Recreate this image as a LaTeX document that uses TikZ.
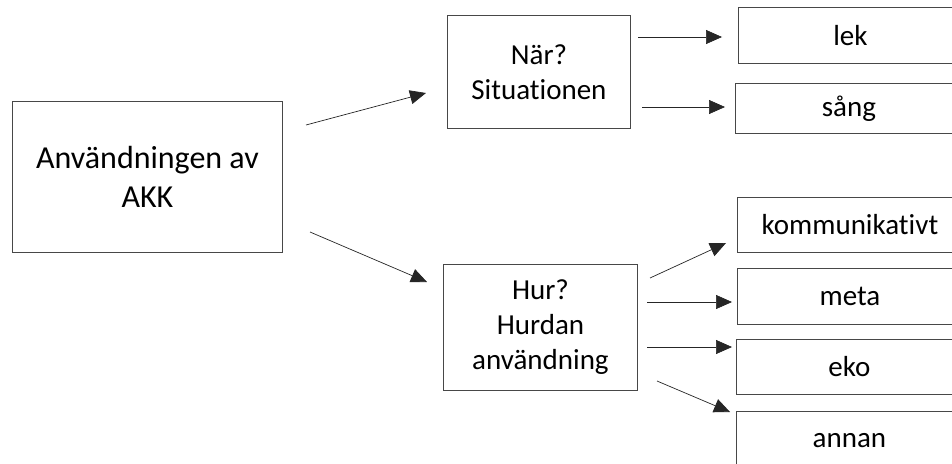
\documentclass[tikz,border=0pt]{standalone}
\usepackage{fontspec}
\setmainfont{Carlito}[RawFeature={-liga,-clig}]
\usetikzlibrary{arrows.meta}
\tikzset{
  box/.style={draw=black!72, line width=0.9pt, rectangle, inner sep=0pt, anchor=north west, align=center, font=\fontsize{29}{35}\selectfont},
  bigbox/.style={box, font=\fontsize{32}{39}\selectfont},
  conn/.style={draw=black!85, line width=0.7pt, -{Triangle[length=16pt,width=14pt]}}
}
\begin{document}
\begin{tikzpicture}[x=1pt,y=-1pt]
\useasboundingbox (0,0) rectangle (952,463);
\clip (0,0) rectangle (952,463);
\fill[white] (0,0) rectangle (952,463);
% nodes
\node[bigbox, minimum width=270pt, minimum height=151pt] (main) at (12,101) {Användningen av\\AKK};
\node[box, minimum width=183pt, minimum height=113pt] (nar) at (447,15) {När?\\Situationen};
\node[box, minimum width=194pt, minimum height=126pt] (hur) at (443,264) {Hur?\\Hurdan\\användning};
\node[box, minimum width=224pt, minimum height=56pt] (lek) at (738,7) {lek};
\node[box, minimum width=227pt, minimum height=50pt] (sang) at (735,83) {sång};
\node[box, minimum width=225pt, minimum height=55pt] (komm) at (737,197) {kommunikativt};
\node[box, minimum width=225pt, minimum height=56pt] (meta) at (737,268) {meta};
\node[box, minimum width=226pt, minimum height=55pt] (eko) at (736,339) {eko};
\node[box, minimum width=226pt, minimum height=58pt] (annan) at (736,411) {annan};
% connector end points
\coordinate (a1s) at (306,125); \coordinate (a1e) at (426,93);
\coordinate (a2s) at (310,232); \coordinate (a2e) at (427,282);
\coordinate (a3s) at (638,37);  \coordinate (a3e) at (722,37);
\coordinate (a4s) at (642,107); \coordinate (a4e) at (725,107);
\coordinate (a5s) at (650,278); \coordinate (a5e) at (726,243);
\coordinate (a6s) at (647,302); \coordinate (a6e) at (732,302);
\coordinate (a7s) at (647,347); \coordinate (a7e) at (732,347);
\coordinate (a8s) at (657,381); \coordinate (a8e) at (730,412);
\draw[conn] (a1s) -- (a1e);
\draw[conn] (a2s) -- (a2e);
\draw[conn] (a3s) -- (a3e);
\draw[conn] (a4s) -- (a4e);
\draw[conn] (a5s) -- (a5e);
\draw[conn] (a6s) -- (a6e);
\draw[conn] (a7s) -- (a7e);
\draw[conn] (a8s) -- (a8e);
\end{tikzpicture}
\end{document}
